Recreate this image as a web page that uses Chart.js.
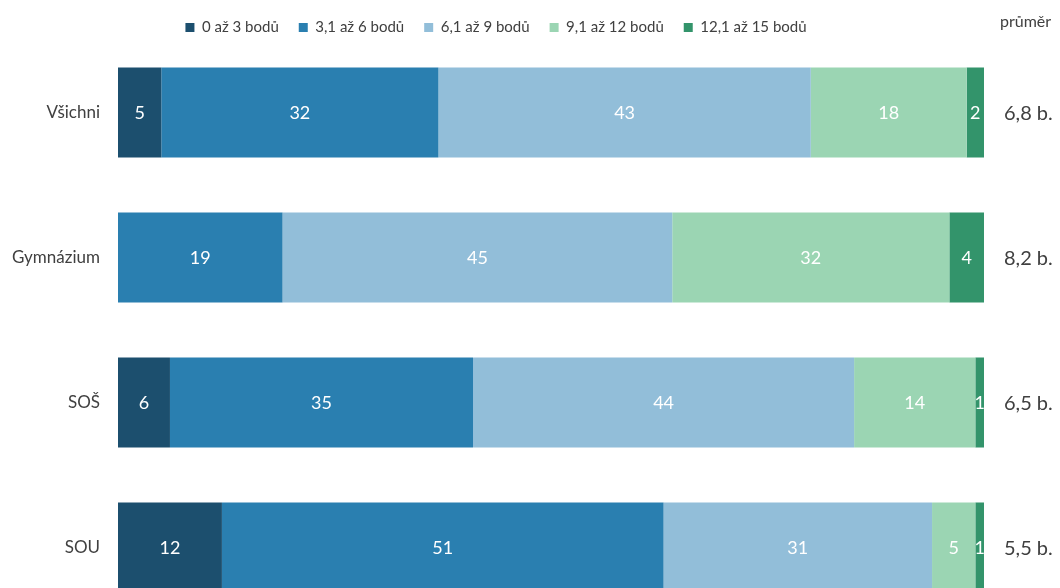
<!DOCTYPE html>
<html>
<head>
<meta charset="utf-8">
<script src="https://cdn.jsdelivr.net/npm/chart.js@4.4.1/dist/chart.umd.min.js"></script>
<style>
  html, body { margin: 0; padding: 0; background: #fff; overflow: hidden; }
  #wrap { position: relative; width: 1060px; height: 632px; }
</style>
</head>
<body>
<div id="wrap"><canvas id="chart"></canvas></div>
<script>
const categories = ['Všichni', 'Gymnázium', 'SOŠ', 'SOU'];
const seriesNames = ['0 až 3 bodů', '3,1 až 6 bodů', '6,1 až 9 bodů', '9,1 až 12 bodů', '12,1 až 15 bodů'];
const band1 = [5, 0, 6, 12];
const band2 = [32, 19, 35, 51];
const band3 = [43, 45, 44, 31];
const band4 = [18, 32, 14, 5];
const band5 = [2, 4, 1, 1];
const averages = [6.8, 8.2, 6.5, 5.5];
const colors = ['#1c4f6e', '#2a7fb0', '#92bed9', '#9bd5b3', '#33946b'];

const FONT = 'Lato, "Open Sans", sans-serif';
const TEXT = '#404040';

// legend height fixed so the plot starts right under it
const legendHeight = {
  id: 'legendHeight',
  afterInit(chart) {
    const lg = chart.legend;
    const fit = lg.fit;
    lg.fit = function () { fit.call(this); this.height = 40; };
  }
};

// values inside the segments
const segmentLabels = {
  id: 'segmentLabels',
  afterDatasetsDraw(chart) {
    const ctx = chart.ctx;
    ctx.save();
    ctx.font = '18px ' + FONT;
    ctx.fillStyle = '#ffffff';
    ctx.textAlign = 'center';
    ctx.textBaseline = 'middle';
    chart.data.datasets.forEach((ds, i) => {
      chart.getDatasetMeta(i).data.forEach((bar, j) => {
        const v = ds.data[j];
        if (!v) return;
        ctx.fillText(v, (bar.x + bar.base) / 2, bar.y + 1);
      });
    });
    ctx.restore();
  }
};

// "průměr" column on the right
const averageColumn = {
  id: 'averageColumn',
  afterDraw(chart) {
    const ctx = chart.ctx;
    const y = chart.scales.y;
    ctx.save();
    ctx.fillStyle = TEXT;
    ctx.textAlign = 'left';
    ctx.textBaseline = 'middle';
    ctx.font = '16px ' + FONT;
    ctx.fillText('průměr', 1000, 22);
    ctx.font = '20px ' + FONT;
    averages.forEach((a, i) => {
      ctx.fillText(a.toFixed(1).replace('.', ',') + ' b.', chart.chartArea.right + 20, y.getPixelForValue(i) + 1);
    });
    ctx.restore();
  }
};

const bands = [band1, band2, band3, band4, band5];

new Chart(document.getElementById('chart'), {
  type: 'bar',
  data: {
    labels: categories,
    datasets: bands.map((d, i) => ({
      label: seriesNames[i],
      data: d,
      backgroundColor: colors[i],
      borderWidth: 0,
      categoryPercentage: 1,
      barPercentage: 0.62
    }))
  },
  options: {
    indexAxis: 'y',
    responsive: true,
    maintainAspectRatio: false,
    animation: false,
    layout: { padding: { left: 8, right: 76, top: 0, bottom: 12 } },
    plugins: {
      tooltip: { enabled: false },
      legend: {
        position: 'top',
        labels: {
          boxWidth: 9,
          boxHeight: 9,
          padding: 20,
          color: TEXT,
          font: { family: FONT, size: 15 }
        }
      }
    },
    scales: {
      x: {
        stacked: true,
        min: 0,
        max: 100,
        display: false
      },
      y: {
        stacked: true,
        grid: { display: false, drawTicks: false },
        border: { display: false },
        ticks: { color: TEXT, padding: 18, font: { family: FONT, size: 17 } },
        afterFit(scale) {
          scale.width = 110;
          scale.paddingTop = 0;
          scale.paddingBottom = 0;
        }
      }
    }
  },
  plugins: [legendHeight, segmentLabels, averageColumn]
});
</script>
</body>
</html>
